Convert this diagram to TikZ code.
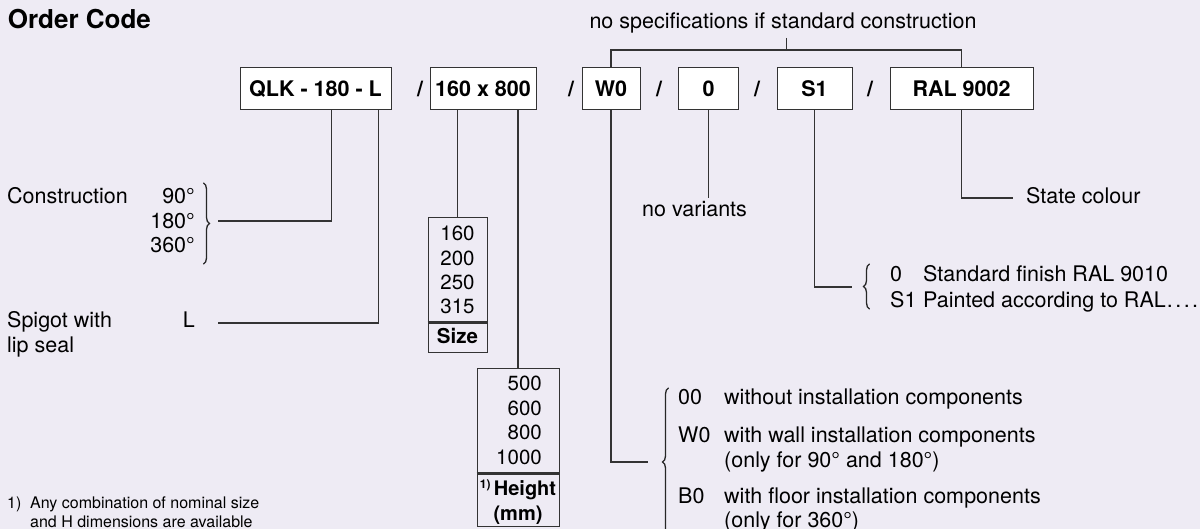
\documentclass[tikz,border=0pt]{standalone}
\usepackage{fontspec}
\setmainfont{TeX Gyre Heros}
\usetikzlibrary{decorations.pathreplacing}
\definecolor{bg}{HTML}{EEEBF4}
\definecolor{ln}{HTML}{333333}
\newcommand{\fs}[1]{\fontsize{#1}{#1}\selectfont}
\begin{document}
\begin{tikzpicture}[x=1pt,y=-1pt,
  bx/.style={draw=ln, line width=1pt, fill=white, minimum height=42pt, inner sep=0pt, font=\fs{21.5}\bfseries, text height=15.5pt, text depth=0pt},
  sl/.style={font=\fs{21.5}\bfseries, inner sep=0pt, text height=15.5pt, text depth=0pt},
  tx/.style={font=\fs{21.5}, inner sep=0pt},
  bxt/.style={font=\fs{20.5}, inner sep=0pt},
  sm/.style={font=\fs{16}, inner sep=0pt},
  con/.style={draw=ln, line width=1.1pt},
  tbl/.style={draw=ln, line width=1pt, inner sep=0pt},
  sepl/.style={draw=ln, line width=2.2pt},
  curly/.style={draw=black!85, line width=1.3pt, line cap=round, decorate, decoration={brace, amplitude=6pt}}
]
\useasboundingbox[fill=bg] (0,0) rectangle (1200,529);

% title
\node[font=\fs{26}\bfseries, inner sep=0pt, anchor=base west] (title) at (7.7,28.7) {Order Code};

% code boxes
\node[bx, minimum width=151pt] (b1) at (315.5,89) {QLK - 180 - L};
\node[sl] (s1) at (420,89) {/};
\node[bx, minimum width=106pt] (b2) at (483,89) {160 x 800};
\node[sl] (s2) at (571,89) {/};
\node[bx, minimum width=58pt] (b3) at (611,89) {W0};
\node[sl] (s3) at (659,89) {/};
\node[bx, minimum width=60pt] (b4) at (708.5,89) {0};
\node[sl] (s4) at (757,89) {/};
\node[bx, minimum width=75pt] (b5) at (814.5,89) {S1};
\node[sl] (s5) at (870,89) {/};
\node[bx, minimum width=143pt] (b6) at (961.5,89) {RAL 9002};

% top bracket
\node[tx, anchor=base] (nospec) at (783,28.7) {no specifications if standard construction};
\coordinate (topy) at (0,50);
\coordinate (tk) at (786.4,38);
\draw[con] (b3.north) -- (b3.north |- topy) -- (b6.north |- topy) -- (b6.north);
\draw[con] (tk) -- (tk |- topy);

% construction
\node[tx, anchor=base west] (constr) at (7,204) {Construction};
\node[tx, anchor=base east] (d90) at (195,204) {90°};
\node[tx, anchor=base east] (d180) at (195,229) {180°};
\node[tx, anchor=base east] (d360) at (195,253) {360°};
\coordinate (brCt) at (203.5,183);
\coordinate (brCb) at (203.5,264);
\draw[curly] (brCt) -- (brCb);
\coordinate (cC) at (218,221);
\draw[con] ([xshift=16pt]b1.south) |- (cC);

% spigot
\node[tx, anchor=base west] (spig1) at (7,328) {Spigot with};
\node[tx, anchor=base west] (spig2) at (7,353) {lip seal};
\node[tx, anchor=base east] (Lopt) at (195,328) {L};
\coordinate (cL) at (218,323);
\draw[con] ([xshift=63.4pt]b1.south) |- (cL);

% size table
\node[tbl, minimum width=59pt, minimum height=135pt] (szbox) at (457.5,285.5) {};
\draw[sepl] ([yshift=-105pt]szbox.north west) -- ([yshift=-105pt]szbox.north east);
\draw[con] (szbox.north |- b2.south) -- (szbox.north);
\node[bxt, anchor=base] (z1) at (457.5,241) {160};
\node[bxt, anchor=base] (z2) at (457.5,265.3) {200};
\node[bxt, anchor=base] (z3) at (457.5,289.6) {250};
\node[bxt, anchor=base] (z4) at (457.5,314) {315};
\node[bxt, font=\fs{20.5}\bfseries, anchor=base] (zlab) at (457.5,344) {Size};

% height table
\node[tbl, minimum width=82pt, minimum height=157pt] (hbox) at (518,447.5) {};
\draw[sepl] ([yshift=-105pt]hbox.north west) -- ([yshift=-105pt]hbox.north east);
\draw[con] (hbox.north |- b2.south) -- (hbox.north);
\node[bxt, anchor=base east] (h1) at (542,391) {500};
\node[bxt, anchor=base east] (h2) at (542,415) {600};
\node[bxt, anchor=base east] (h3) at (542,439.5) {800};
\node[bxt, anchor=base east] (h4) at (542,464) {1000};
\node[bxt, font=\fs{20}\bfseries, anchor=base] (hlab) at (518,495) {\raisebox{7pt}{\fs{12}\bfseries 1)}\,Height};
\node[bxt, font=\fs{20}\bfseries, anchor=base] (hlab2) at (518,520) {(mm)};

% W0 options
\coordinate (cW) at (648,462);
\draw[con] (b3.south) |- (cW);
\coordinate (brWt) at (668.5,388);
\coordinate (brWb) at (668.5,536);
\draw[curly] (brWb) -- (brWt);
\node[tx, anchor=base west] (w00) at (678,405) {00};
\node[tx, anchor=base west] (w00t) at (724,405) {without installation components};
\node[tx, anchor=base west] (ww0) at (678,442) {W0};
\node[tx, anchor=base west] (ww0t) at (724,442) {with wall installation components};
\node[tx, anchor=base west] (ww0u) at (724,467) {(only for 90° and 180°)};
\node[tx, anchor=base west] (wb0) at (678,503) {B0};
\node[tx, anchor=base west] (wb0t) at (724,503) {with floor installation components};
\node[tx, anchor=base west] (wb0u) at (724,527) {(only for 360°)};

% variants
\coordinate (c0) at (708.5,198);
\draw[con] (b4.south) -- (c0);
\node[tx, anchor=base west] (novar) at (642,217) {no variants};

% S1 options
\coordinate (cS) at (852,287);
\draw[con] (b5.south) |- (cS);
\coordinate (brSt) at (869.5,264);
\coordinate (brSb) at (869.5,309);
\draw[curly] (brSb) -- (brSt);
\node[tx, anchor=base west] (s0) at (890,282) {0};
\node[tx, anchor=base west] (s0t) at (923,282) {Standard finish RAL 9010};
\node[tx, anchor=base west] (ss1) at (890,307.5) {S1};
\node[tx, anchor=base west] (ss1t) at (923,307.5) {Painted according to RAL\hspace{1pt}.\hspace{2.5pt}.\hspace{2.5pt}.\hspace{2.5pt}.};

% colour
\coordinate (cR) at (1013,198);
\draw[con] (b6.south) |- (cR);
\node[tx, anchor=base west] (state) at (1026,204) {State colour};

% footnote
\node[sm, anchor=base west] (fn1) at (7,508) {1)};
\node[sm, anchor=base west] (fn2) at (30,508) {Any combination of nominal size};
\node[sm, anchor=base west] (fn3) at (30,527) {and H dimensions are available};
\end{tikzpicture}
\end{document}
